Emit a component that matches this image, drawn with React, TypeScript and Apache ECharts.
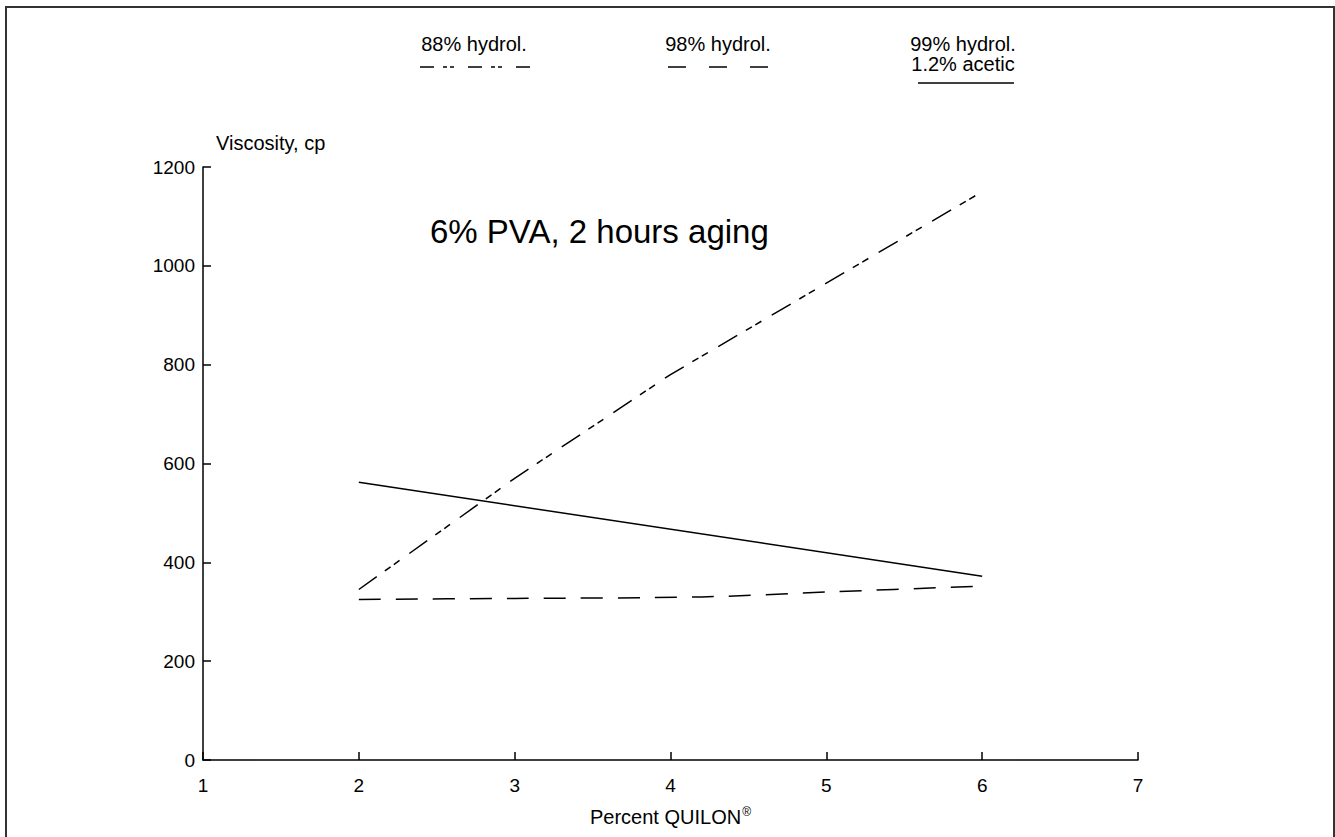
import React, { useEffect, useRef } from "react";
import * as echarts from "echarts";

const FONT = "'Liberation Sans', Arial, Helvetica, sans-serif";

const seriesNames = ["88% hydrol.", "98% hydrol.", "99% hydrol.\n1.2% acetic"];
const x88 = [2, 3, 4, 5, 6];
const y88 = [345, 570, 780, 965, 1150];
const x98 = [2, 3, 4.2, 5, 6];
const y98 = [325, 327, 330, 340, 352];
const x99 = [2, 6];
const y99 = [562, 372];

const xTicks = { min: 1, max: 7, interval: 1 };
const yTicks = { min: 0, max: 1200, interval: 200 };

const dash88 = [22, 10, 7, 4, 7, 12];
const dash98 = [22, 15];

const zip = (xs: number[], ys: number[]) => xs.map((x, i) => [x, ys[i]]);

export default function App() {
  const ref = useRef<HTMLDivElement>(null);
  useEffect(() => {
    if (!ref.current) return;
    const chart = echarts.init(ref.current, null, { renderer: "svg" });
    const axisCommon = {
      axisLine: { lineStyle: { color: "#000", width: 1.5 } },
      axisTick: { inside: true, length: 8, lineStyle: { color: "#000", width: 1.5 } },
      splitLine: { show: false },
      axisLabel: { color: "#000", fontSize: 19, fontFamily: FONT, formatter: (v: number) => String(v) },
    };
    const legendText = (text: string, cx: number, y: number) => ({
      type: "text",
      x: cx,
      y,
      style: { text, fill: "#000", fontSize: 20, fontFamily: FONT, align: "center", verticalAlign: "middle", lineHeight: 20 },
    });
    const legendLine = (x1: number, x2: number, y: number, dash: any) => ({
      type: "line",
      shape: { x1, y1: y, x2, y2: y },
      style: { stroke: "#000", lineWidth: 1.5, lineDash: dash },
    });
    chart.setOption({
      animation: false,
      backgroundColor: "#fff",
      grid: { left: 203, right: 197, top: 167, bottom: 77 },
      xAxis: {
        type: "value",
        ...xTicks,
        ...axisCommon,
        axisLabel: { ...axisCommon.axisLabel, margin: 16 },
        name: "{a|Percent QUILON}{b|®}",
        nameLocation: "middle",
        nameGap: 46,
        nameTextStyle: {
          rich: {
            a: { fontSize: 20, fontFamily: FONT, color: "#000", lineHeight: 22 },
            b: { fontSize: 12, fontFamily: FONT, color: "#000", verticalAlign: "top", lineHeight: 22, padding: [0, 0, 8, 1] },
          },
        },
      },
      yAxis: {
        type: "value",
        ...yTicks,
        ...axisCommon,
        axisLabel: { ...axisCommon.axisLabel, margin: 8 },
      },
      series: [
        { type: "line", name: seriesNames[0], data: zip(x88, y88), symbol: "none", lineStyle: { color: "#000", width: 1.5, type: dash88 } },
        { type: "line", name: seriesNames[1], data: zip(x98, y98), symbol: "none", smooth: 0.3, lineStyle: { color: "#000", width: 1.5, type: dash98 } },
        { type: "line", name: seriesNames[2], data: zip(x99, y99), symbol: "none", lineStyle: { color: "#000", width: 1.5, type: "solid" } },
      ],
      graphic: [
        { type: "rect", shape: { x: 6, y: 7, width: 1328, height: 900 }, style: { fill: "none", stroke: "#333", lineWidth: 2 }, silent: true },
        { type: "text", x: 216, y: 143, style: { text: "Viscosity, cp", fill: "#000", fontSize: 20, fontFamily: FONT, verticalAlign: "middle" } },
        { type: "text", x: 430, y: 231, style: { text: "6% PVA, 2 hours aging", fill: "#000", fontSize: 33, fontFamily: FONT, verticalAlign: "middle" } },
        legendText(seriesNames[0], 474, 44),
        legendLine(420, 530, 67, [14, 9, 4, 3, 4, 14]),
        legendText(seriesNames[1], 718, 44),
        legendLine(668, 768, 67, [18, 23]),
        legendText(seriesNames[2], 963, 54),
        legendLine(918, 1014, 83, null),
      ],
    });
    return () => chart.dispose();
  }, []);
  return <div ref={ref} style={{ position: "absolute", left: 0, top: 0, width: 1335, height: 837 }} />;
}
